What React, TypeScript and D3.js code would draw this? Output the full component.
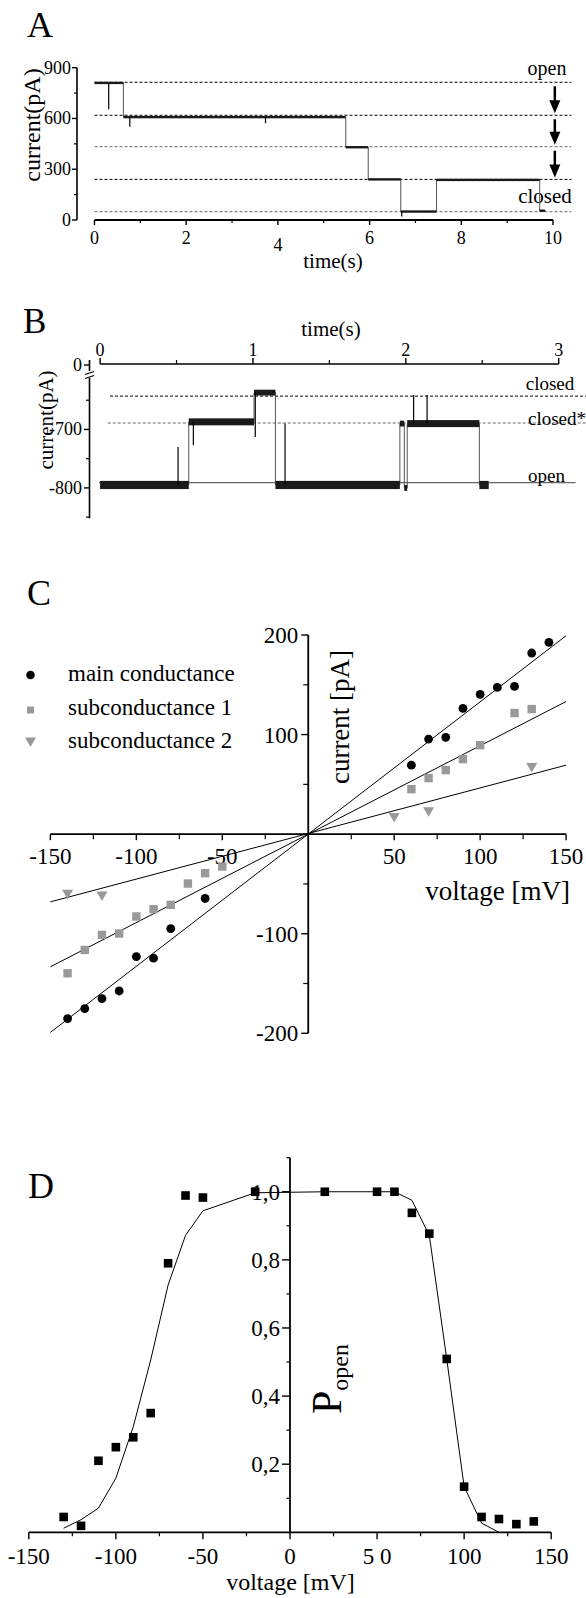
import React from 'react';
import * as d3 from 'd3';

const FONT = "'Liberation Serif', 'Times New Roman', serif";
const GREY = '#999999';

// ---------- Panel A: current trace over 10 s ----------
const aTimeTicks = [0, 2, 4, 6, 8, 10];
const aTimeMinor = [1, 3, 5, 7, 9];
const aCurrentTicks = [0, 300, 600, 900];
const aCurrentMinor = [150, 450, 750];
// guide levels (pA), top one is "open", bottom one is "closed"
const aGuideLevels = [814, 619, 433, 240, 49];
const aGuideDark = [true, true, false, true, false];
// idealised trace: segment start (s), end (s), mean current (pA)
const aSegStart = [0, 0.63, 5.48, 5.97, 6.68, 7.46, 9.71];
const aSegEnd = [0.63, 5.48, 5.97, 6.68, 7.46, 9.71, 9.83];
const aSegLevel = [810, 608, 430, 240, 50, 237, 55];
const aNoise = 7; // half-width of the noise band, pA
// short spikes: time (s) and peak current (pA)
const aSpikeTime = [0.31, 0.77, 3.73, 6.7];
const aSpikeCurrent = [654, 551, 572, 20];

// ---------- Panel B: current trace over 3 s (broken y axis) ----------
const bTimeTicks = [0, 1, 2, 3];
const bTimeMinor = [0.5, 1.5, 2.5];
const bCurrentTicks = [0, -700, -800];
const bCurrentMinor = [-650, -750, -850];
const bClosed = -643;
const bClosedStar = -689;
const bOpen = -791;
const bSegStart = [0, 0.58, 1.007, 1.147, 1.961, 1.99, 2.009, 2.481];
const bSegEnd = [0.58, 1.007, 1.147, 1.961, 1.99, 2.009, 2.481, 2.542];
const bSegLevel = [-795, -687, -637, -795, -690, -800, -690, -795];
const bSegNoise = [7, 6, 5, 7, 5, 5, 6, 7];
const bSpikeTime = [0.51, 0.61, 1.015, 1.21, 2.051, 2.139];
const bSpikeCurrent = [-730, -727, -713, -690, -641, -641];

// ---------- Panel C: I-V relation ----------
const cVoltTicks = [-150, -100, -50, 50, 100, 150];
const cVoltMinor = [-125, -75, -25, 0, 25, 75, 125];
const cCurrTicks = [-200, -100, 100, 200];
const cCurrMinor = [-150, -50, 0, 50, 150];
const cMainV = [-140, -130, -120, -110, -100, -90, -80, -60, 60, 70, 80, 90, 100, 110, 120, 130, 140];
const cMainI = [-185.2, -175.2, -165.1, -157.5, -122.9, -124.6, -94.8, -64.6, 69.3, 95.5, 97.2, 126.3, 140.4, 147.4, 148.4, 181.9, 192.6];
const cSub1V = [-140, -130, -120, -110, -100, -90, -80, -70, -60, -50, 60, 70, 80, 90, 100, 120, 130];
const cSub1I = [-139.7, -116.3, -101.2, -99.8, -82.7, -75.4, -71, -49.6, -39.2, -32.5, 45.2, 56.3, 64.3, 75.4, 89.4, 121.6, 125.6];
const cSub2V = [-140, -120, 50, 70, 130];
const cSub2I = [-60.3, -62, 16.8, 22.4, 67];
// linear fits (end points)
const cFitV = [-150, 150];
const cFitMain = [-199.1, 199.3];
const cFitSub1 = [-133.2, 133.2];
const cFitSub2 = [-68, 69.3];
const cLegend = ['main conductance', 'subconductance 1', 'subconductance 2'];

// ---------- Panel D: open probability ----------
const dVoltTicks = [-150, -100, -50, 0, 50, 100, 150];
const dVoltLabels = ['-150', '-100', '-50', '0', '5 0', '100', '150'];
const dVoltMinor = [-125, -75, -25, 25, 75, 125];
const dProbTicks = [0.2, 0.4, 0.6, 0.8, 1.0];
const dProbMinor = [0.1, 0.3, 0.5, 0.7, 0.9, 1.1];
const dV = [-130, -120, -110, -100, -90, -80, -70, -60, -50, -20, 20, 50, 60, 70, 80, 90, 100, 110, 120, 130, 140];
const dP = [0.045, 0.019, 0.21, 0.25, 0.279, 0.35, 0.79, 0.989, 0.983, 1.0, 1.0, 1.0, 1.0, 0.938, 0.877, 0.509, 0.134, 0.045, 0.039, 0.024, 0.032];
const dFitV = [-130, -120, -110, -100, -90, -80, -70, -60, -50, -20, 20, 50, 60, 70, 80, 90, 100, 110, 120];
const dFitP = [0.012, 0.037, 0.071, 0.159, 0.31, 0.506, 0.726, 0.872, 0.944, 0.997, 1.0, 1.0, 1.0, 0.975, 0.872, 0.509, 0.134, 0.027, 0.0];

const stepPoints = (starts: number[], ends: number[], levels: number[]) =>
  starts.flatMap((s, i) => [[s, levels[i]], [ends[i], levels[i]]] as [number, number][]);

const levelAt = (t: number, starts: number[], ends: number[], levels: number[]) => {
  const i = starts.findIndex((s, k) => t >= s && t <= ends[k]);
  return levels[Math.max(i, 0)];
};

const App = () => {
  // ---- scales ----
  const xA = d3.scaleLinear().domain([0, 10]).range([94.5, 553]);
  const yA = d3.scaleLinear().domain([0, 900]).range([220, 67.7]);
  const xB = d3.scaleLinear().domain([0, 3]).range([100.1, 558.7]);
  // piecewise scale: the axis is broken between 0 and -612 pA
  const yB = d3.scaleLinear().domain([-852, -612, 0]).range([518.3, 378, 365]);
  const xC = d3.scaleLinear().domain([-150, 150]).range([50.4, 566.1]);
  const yC = d3.scaleLinear().domain([-200, 200]).range([1033.3, 635]);
  const xD = d3.scaleLinear().domain([-150, 150]).range([28.8, 551.2]);
  const yD = d3.scaleLinear().domain([0, 1.1]).range([1532.3, 1157.7]);

  const lineA = d3.line<[number, number]>().x(d => xA(d[0])).y(d => yA(d[1]));
  const lineB = d3.line<[number, number]>().x(d => xB(d[0])).y(d => yB(d[1]));
  const lineC = d3.line<[number, number]>().x(d => xC(d[0])).y(d => yC(d[1]));
  const lineD = d3.line<[number, number]>().x(d => xD(d[0])).y(d => yD(d[1]));

  const axisX0 = xC(0);
  const axisY0 = yC(0);
  const dAxisX = xD(0);
  const dAxisY = yD(0);

  const tri = (x: number, y: number) => `M${x - 5.5},${y - 4.5}L${x + 5.5},${y - 4.5}L${x},${y + 5}Z`;

  return (
    <svg width={586} height={1598} style={{ position: 'absolute', left: 0, top: 0, background: '#fff' }}
      fontFamily={FONT} fill="#000">
      <rect width={586} height={1598} fill="#fff" />

      {/* ================= Panel A ================= */}
      <text x={27} y={37} fontSize={36}>A</text>
      {/* y axis */}
      <line x1={77} x2={77} y1={yA(900)} y2={yA(0)} stroke="#000" strokeWidth={1.6} />
      {aCurrentTicks.map(v => (
        <g key={'ayt' + v}>
          <line x1={72} x2={77} y1={yA(v)} y2={yA(v)} stroke="#000" strokeWidth={1.4} />
          <text x={71} y={yA(v) + 6} fontSize={18} textAnchor="end">{v}</text>
        </g>
      ))}
      {aCurrentMinor.map(v => (
        <line key={'aym' + v} x1={74} x2={77} y1={yA(v)} y2={yA(v)} stroke="#000" strokeWidth={1.2} />
      ))}
      <text transform={`translate(40,125) rotate(-90)`} fontSize={24} textAnchor="middle">current(pA)</text>
      {/* x axis */}
      <line x1={xA(0)} x2={xA(10)} y1={yA(0)} y2={yA(0)} stroke="#000" strokeWidth={1.8} />
      {aTimeTicks.map(t => (
        <g key={'axt' + t}>
          <line x1={xA(t)} x2={xA(t)} y1={yA(0)} y2={yA(0) + 5} stroke="#000" strokeWidth={1.4} />
          {/* the original has its "4" label set lower than the others */}
          <text x={xA(t)} y={yA(0) + 24 + (t === 4 ? 7 : 0)} fontSize={18} textAnchor="middle">{t}</text>
        </g>
      ))}
      {aTimeMinor.map(t => (
        <line key={'axm' + t} x1={xA(t)} x2={xA(t)} y1={yA(0)} y2={yA(0) + 3} stroke="#000" strokeWidth={1.2} />
      ))}
      <text x={333} y={268} fontSize={21} textAnchor="middle">time(s)</text>
      {/* guide levels */}
      {aGuideLevels.map((v, i) => (
        <line key={'ag' + i} x1={xA(0)} x2={xA(10.4)} y1={yA(v)} y2={yA(v)}
          stroke={aGuideDark[i] ? '#000' : '#666'} strokeWidth={1} strokeDasharray="3,2" />
      ))}
      <text x={547} y={75} fontSize={20} textAnchor="middle">open</text>
      <text x={545} y={203} fontSize={21} textAnchor="middle">closed</text>
      {aGuideLevels.slice(0, 3).map((v, i) => {
        const x = xA(10.04);
        const y1 = yA(v) + 4;
        const y2 = yA(aGuideLevels[i + 1]) - 2;
        return (
          <g key={'arr' + i}>
            <line x1={x} x2={x} y1={y1} y2={y2 - 10} stroke="#000" strokeWidth={2.5} />
            <path d={`M${x - 5.5},${y2 - 13}L${x + 5.5},${y2 - 13}L${x},${y2}Z`} fill="#000" />
          </g>
        );
      })}
      {/* trace */}
      <path d={lineA(stepPoints(aSegStart, aSegEnd, aSegLevel)) || ''} fill="none" stroke="#555" strokeWidth={1} />
      {aSegStart.map((s, i) => (
        <rect key={'an' + i} x={xA(s)} width={xA(aSegEnd[i]) - xA(s)}
          y={yA(aSegLevel[i] + aNoise)} height={yA(aSegLevel[i] - aNoise) - yA(aSegLevel[i] + aNoise)} fill="#1a1a1a" />
      ))}
      {aSpikeTime.map((t, i) => (
        <line key={'as' + i} x1={xA(t)} x2={xA(t)} y1={yA(levelAt(t, aSegStart, aSegEnd, aSegLevel))}
          y2={yA(aSpikeCurrent[i])} stroke="#000" strokeWidth={1.2} />
      ))}

      {/* ================= Panel B ================= */}
      <text x={23} y={333} fontSize={35}>B</text>
      {/* top time axis */}
      <line x1={xB(0)} x2={xB(3)} y1={364} y2={364} stroke="#000" strokeWidth={1.6} />
      {bTimeTicks.map(t => (
        <g key={'bxt' + t}>
          <line x1={xB(t)} x2={xB(t)} y1={364} y2={358} stroke="#000" strokeWidth={1.4} />
          <text x={xB(t)} y={356} fontSize={18} textAnchor="middle">{t}</text>
        </g>
      ))}
      {bTimeMinor.map(t => (
        <line key={'bxm' + t} x1={xB(t)} x2={xB(t)} y1={364} y2={360} stroke="#000" strokeWidth={1.2} />
      ))}
      <text x={331} y={336} fontSize={21} textAnchor="middle">time(s)</text>
      {/* broken y axis */}
      <line x1={89.5} x2={89.5} y1={yB(0) - 5} y2={371} stroke="#000" strokeWidth={1.6} />
      <line x1={89.5} x2={89.5} y1={yB(-612)} y2={yB(-852)} stroke="#000" strokeWidth={1.6} />
      <path d="M85,374.5L94,371.5M85,378.5L94,375.5" stroke="#000" strokeWidth={1.3} fill="none" />
      {bCurrentTicks.map(v => (
        <g key={'byt' + v}>
          <line x1={84} x2={89.5} y1={yB(v)} y2={yB(v)} stroke="#000" strokeWidth={1.4} />
          <text x={82} y={yB(v) + 6} fontSize={18} textAnchor="end">{v}</text>
        </g>
      ))}
      {bCurrentMinor.map(v => (
        <line key={'bym' + v} x1={86} x2={89.5} y1={yB(v)} y2={yB(v)} stroke="#000" strokeWidth={1.2} />
      ))}
      <text transform="translate(53,420) rotate(-90)" fontSize={21} textAnchor="middle">current(pA)</text>
      {/* guide levels */}
      <line x1={xB(0.065)} x2={586} y1={yB(bClosed)} y2={yB(bClosed)} stroke="#000" strokeWidth={1} strokeDasharray="3,2" />
      <line x1={xB(0.05)} x2={586} y1={yB(bClosedStar)} y2={yB(bClosedStar)} stroke="#666" strokeWidth={1} strokeDasharray="3,2" />
      <line x1={xB(-0.007)} x2={xB(3.11)} y1={yB(bOpen)} y2={yB(bOpen)} stroke="#666" strokeWidth={1.2} />
      <text x={550} y={390} fontSize={19} textAnchor="middle">closed</text>
      <text x={528} y={425} fontSize={19}>closed*</text>
      <text x={546.5} y={482} fontSize={19} textAnchor="middle">open</text>
      {/* trace */}
      <path d={lineB(stepPoints(bSegStart, bSegEnd, bSegLevel)) || ''} fill="none" stroke="#555" strokeWidth={1} />
      {bSegStart.map((s, i) => (
        <rect key={'bn' + i} x={xB(s)} width={xB(bSegEnd[i]) - xB(s)}
          y={yB(bSegLevel[i] + bSegNoise[i])} height={yB(bSegLevel[i] - bSegNoise[i]) - yB(bSegLevel[i] + bSegNoise[i])} fill="#1a1a1a" />
      ))}
      {bSpikeTime.map((t, i) => (
        <line key={'bs' + i} x1={xB(t)} x2={xB(t)} y1={yB(levelAt(t, bSegStart, bSegEnd, bSegLevel))}
          y2={yB(bSpikeCurrent[i])} stroke="#000" strokeWidth={1.2} />
      ))}

      {/* ================= Panel C ================= */}
      <text x={27} y={605} fontSize={36}>C</text>
      <line x1={xC(-150)} x2={xC(150)} y1={axisY0} y2={axisY0} stroke="#000" strokeWidth={1.8} />
      <line x1={axisX0} x2={axisX0} y1={yC(200)} y2={yC(-200)} stroke="#000" strokeWidth={1.8} />
      {cVoltTicks.map(v => (
        <g key={'cxt' + v}>
          <line x1={xC(v)} x2={xC(v)} y1={axisY0} y2={axisY0 + 6} stroke="#000" strokeWidth={1.4} />
          <text x={xC(v)} y={axisY0 + 30} fontSize={23} textAnchor="middle">{v}</text>
        </g>
      ))}
      {cVoltMinor.map(v => (
        <line key={'cxm' + v} x1={xC(v)} x2={xC(v)} y1={axisY0} y2={axisY0 + 5} stroke="#000" strokeWidth={1.2} />
      ))}
      {cCurrTicks.map(v => (
        <g key={'cyt' + v}>
          <line x1={axisX0 - 7} x2={axisX0} y1={yC(v)} y2={yC(v)} stroke="#000" strokeWidth={1.4} />
          <text x={axisX0 - 10} y={yC(v) + 8} fontSize={23} textAnchor="end">{v}</text>
        </g>
      ))}
      {cCurrMinor.map(v => (
        <line key={'cym' + v} x1={axisX0 - 5} x2={axisX0} y1={yC(v)} y2={yC(v)} stroke="#000" strokeWidth={1.2} />
      ))}
      <text transform="translate(349,717) rotate(-90)" fontSize={27} textAnchor="middle">current [pA]</text>
      <text x={570} y={900} fontSize={27} textAnchor="end">voltage [mV]</text>
      {/* fits */}
      {[cFitMain, cFitSub1, cFitSub2].map((fit, k) => (
        <path key={'cf' + k} d={lineC(cFitV.map((v, i) => [v, fit[i]] as [number, number])) || ''}
          fill="none" stroke="#000" strokeWidth={1} />
      ))}
      {/* data */}
      {cSub1V.map((v, i) => (
        <rect key={'c1' + i} x={xC(v) - 4.2} y={yC(cSub1I[i]) - 4.2} width={8.4} height={8.4} fill={GREY} />
      ))}
      {cSub2V.map((v, i) => (
        <path key={'c2' + i} d={tri(xC(v), yC(cSub2I[i]))} fill={GREY} />
      ))}
      {cMainV.map((v, i) => (
        <circle key={'cm' + i} cx={xC(v)} cy={yC(cMainI[i])} r={4.4} fill="#000" />
      ))}
      {/* legend */}
      <circle cx={30.5} cy={675} r={4.3} fill="#000" />
      <rect x={27} y={706.5} width={7} height={7} fill={GREY} />
      <path d={tri(30.5, 742)} fill={GREY} />
      {cLegend.map((t, i) => (
        <text key={'cl' + i} x={68} y={681 + i * 33.5} fontSize={23}>{t}</text>
      ))}

      {/* ================= Panel D ================= */}
      <text x={28} y={1198} fontSize={36}>D</text>
      <line x1={xD(-150)} x2={xD(150)} y1={dAxisY} y2={dAxisY} stroke="#000" strokeWidth={1.8} />
      <line x1={dAxisX} x2={dAxisX} y1={yD(1.1)} y2={dAxisY} stroke="#000" strokeWidth={1.8} />
      {dVoltTicks.map((v, i) => (
        <g key={'dxt' + v}>
          <line x1={xD(v)} x2={xD(v)} y1={dAxisY} y2={dAxisY + 7} stroke="#000" strokeWidth={1.4} />
          <text x={xD(v)} y={dAxisY + 32} fontSize={23} textAnchor="middle">{dVoltLabels[i]}</text>
        </g>
      ))}
      {dVoltMinor.map(v => (
        <line key={'dxm' + v} x1={xD(v)} x2={xD(v)} y1={dAxisY} y2={dAxisY + 4} stroke="#000" strokeWidth={1.2} />
      ))}
      {dProbTicks.map(p => (
        <g key={'dyt' + p}>
          <line x1={dAxisX - 8} x2={dAxisX} y1={yD(p)} y2={yD(p)} stroke="#000" strokeWidth={1.4} />
          <text x={dAxisX - 10} y={yD(p) + 8} fontSize={23} textAnchor="end">{p.toFixed(1).replace('.', ',')}</text>
        </g>
      ))}
      {dProbMinor.map(p => (
        <line key={'dym' + p} x1={dAxisX - 3.5} x2={dAxisX} y1={yD(p)} y2={yD(p)} stroke="#000" strokeWidth={1.2} />
      ))}
      <text transform="translate(341,1414) rotate(-90)" fontSize={42}>
        P<tspan fontSize={24} dy={7}>open</tspan>
      </text>
      <text x={290.5} y={1590} fontSize={24} textAnchor="middle">voltage [mV]</text>
      <path d={lineD(dFitV.map((v, i) => [v, dFitP[i]] as [number, number])) || ''} fill="none" stroke="#000" strokeWidth={1} />
      {dV.map((v, i) => (
        <rect key={'dp' + i} x={xD(v) - 4.3} y={yD(dP[i]) - 4.3} width={8.6} height={8.6} fill="#000" />
      ))}
    </svg>
  );
};

export default App;
